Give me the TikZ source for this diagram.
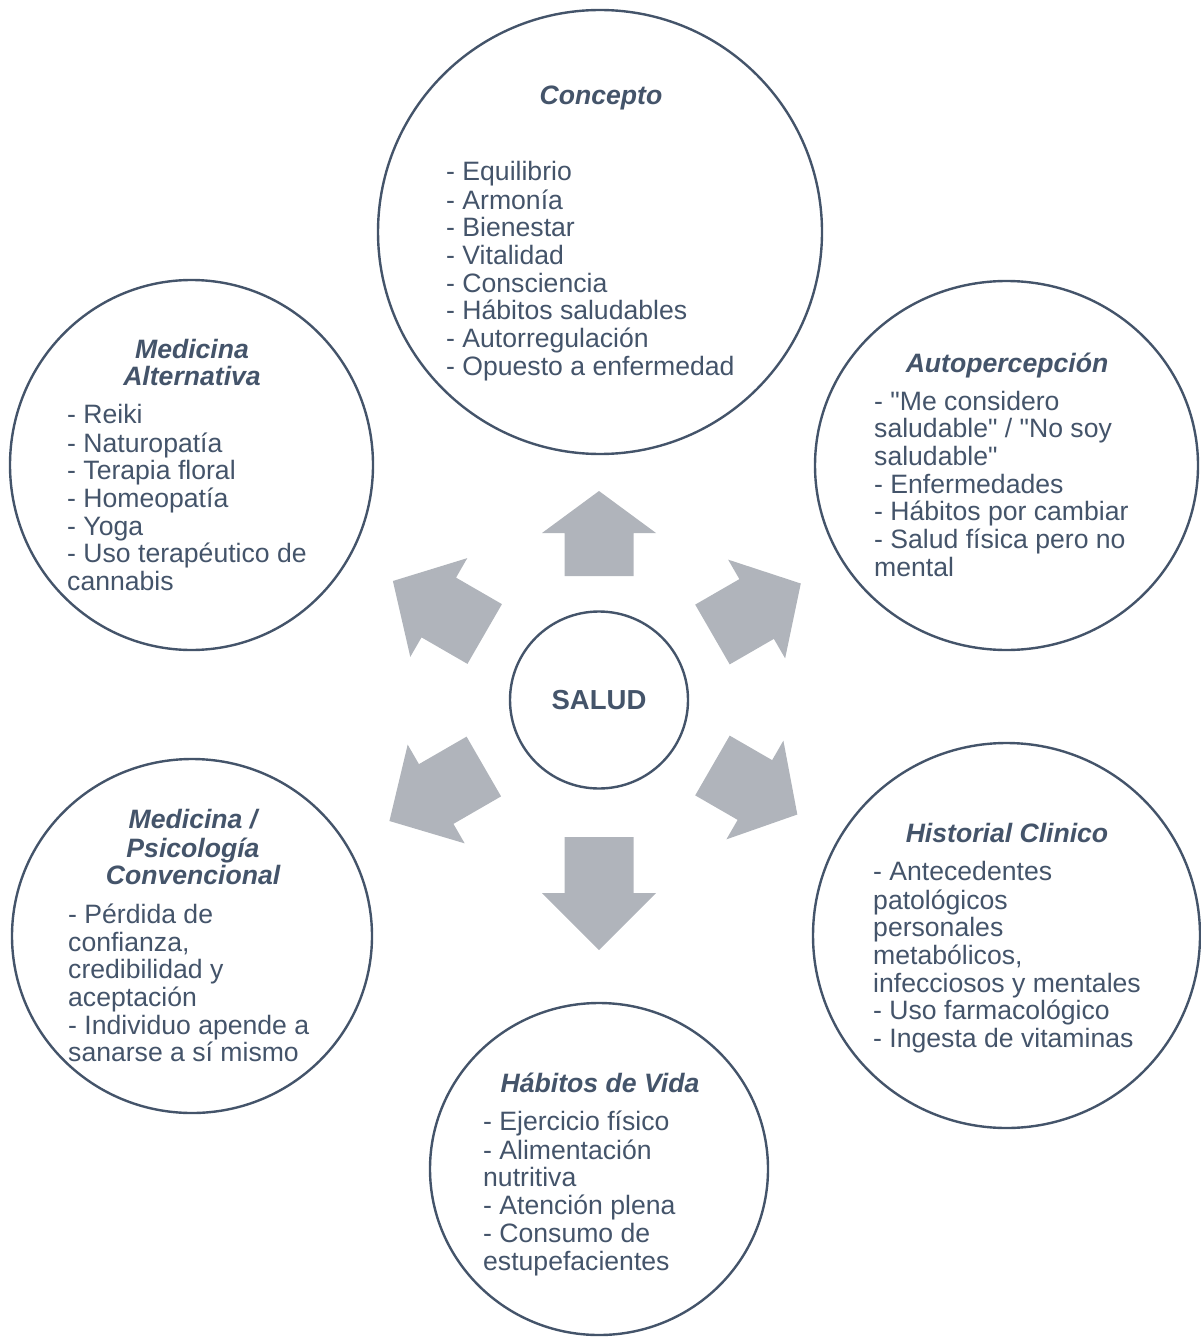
\documentclass[tikz,border=0pt]{standalone}
\usepackage{fontspec}
\setmainfont{Liberation Sans}[Ligatures=TeXOff]
\usetikzlibrary{shapes.geometric}
\definecolor{txt}{HTML}{44546A}
\definecolor{ring}{HTML}{44546A}
\definecolor{arrowfill}{HTML}{B0B4BB}
\newcommand\blockarrow[4]{%
  \fill[arrowfill, shift={(salud.center)}, rotate=#1]
    (#2,-34.5) -- ({#3-#4},-34.5) -- ({#3-#4},-57) -- (#3,0) --
    ({#3-#4},57) -- ({#3-#4},34.5) -- (#2,34.5) -- cycle;}
\begin{document}
\begin{tikzpicture}[x=1pt,y=-1pt,
  ringshape/.style={ellipse, draw=ring, line width=2.4pt, inner sep=0pt, fill=white},
  lst/.style={anchor=north west, align=left, inner sep=0pt, text=txt,
    font=\fontsize{26.6}{27.7}\selectfont},
  ttl/.style={anchor=north, align=center, inner sep=0pt, text=txt,
    font=\fontsize{26.6}{27.7}\selectfont\bfseries\itshape},
]
\useasboundingbox (0,0) rectangle (1200,1337);
% circles
\node[ringshape, minimum width=444pt, minimum height=444pt] (concepto) at (600,232) {};
\node[ringshape, minimum width=363pt, minimum height=370pt] (medalt) at (191.5,465) {};
\node[ringshape, minimum width=383pt, minimum height=369pt] (auto) at (1006.5,465.5) {};
\node[ringshape, minimum width=360pt, minimum height=354pt] (medpsic) at (192,936) {};
\node[ringshape, minimum width=387pt, minimum height=385pt] (hist) at (1006.5,935.5) {};
\node[ringshape, minimum width=338pt, minimum height=332pt] (habitos) at (599,1169) {};
\node[ringshape, minimum width=178pt, minimum height=177pt] (salud) at (599,700) {};
\node[text=txt, font=\fontsize{27.5}{30}\selectfont\bfseries, inner sep=0pt] (saludtxt) at (salud.center) {SALUD};
% block arrows
\blockarrow{90}{124}{209}{42}
\blockarrow{-90}{137}{250}{57}
\blockarrow{150}{132}{238}{53}
\blockarrow{30}{131}{233}{51}
\blockarrow{210}{133}{242}{54}
\blockarrow{-30}{131}{229}{49}
% texts
\node[ttl] (t1) at (601,84.6) {\strut Concepto};
\node[lst] (l1) at (446,160.6) {\strut - Equilibrio\\- Armonía\\- Bienestar\\- Vitalidad\\- Consciencia\\- Hábitos saludables\\- Autorregulación\\- Opuesto a enfermedad};
\node[ttl] (t2) at (192,338.6) {\strut Medicina\\Alternativa};
\node[lst] (l2) at (67,403.6) {\strut - Reiki\\- Naturopatía\\- Terapia floral\\- Homeopatía\\- Yoga\\- Uso terapéutico de\\cannabis};
\node[ttl] (t3) at (1007,352.6) {\strut Autopercepción};
\node[lst] (l3) at (874,390.6) {\strut - "Me considero\\saludable" / "No soy\\saludable"\\- Enfermedades\\- Hábitos por cambiar\\- Salud física pero no\\mental};
\node[ttl] (t4) at (193,808.6) {\strut Medicina /\\Psicología\\Convencional};
\node[lst] (l4) at (68,903.6) {\strut - Pérdida de\\confianza,\\credibilidad y\\aceptación\\- Individuo apende a\\sanarse a sí mismo};
\node[ttl] (t5) at (1007,822.6) {\strut Historial Clinico};
\node[lst] (l5) at (873,860.6) {\strut - Antecedentes\\patológicos\\personales\\metabólicos,\\infecciosos y mentales\\- Uso farmacológico\\- Ingesta de vitaminas};
\node[ttl] (t6) at (600,1072.6) {\strut Hábitos de Vida};
\node[lst] (l6) at (483,1110.6) {\strut - Ejercicio físico\\- Alimentación\\nutritiva\\- Atención plena\\- Consumo de\\estupefacientes};
\end{tikzpicture}
\end{document}
